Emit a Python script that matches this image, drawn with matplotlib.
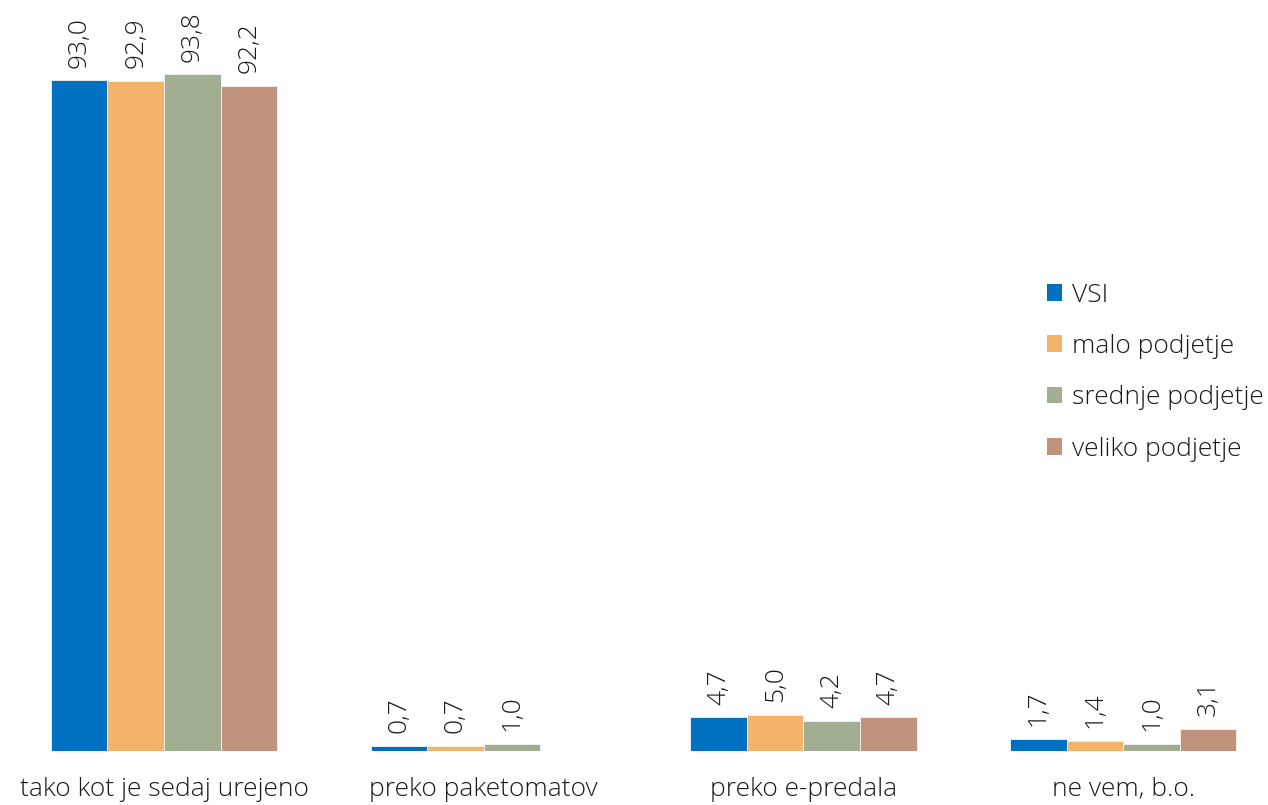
import numpy as np
import matplotlib
matplotlib.use("Agg")
import matplotlib.pyplot as plt
from matplotlib.patches import Patch

categories = ["tako kot je sedaj urejeno", "preko paketomatov", "preko e-predala", "ne vem, b.o."]
series_names = ["VSI", "malo podjetje", "srednje podjetje", "veliko podjetje"]
vsi = [93.0, 0.7, 4.7, 1.7]
malo = [92.9, 0.7, 5.0, 1.4]
srednje = [93.8, 1.0, 4.2, 1.0]
veliko = [92.2, np.nan, 4.7, 3.1]
colors = ["#0070C0", "#F3B36B", "#A2AE91", "#C1937C"]

plt.rcParams['font.family'] = ['Open Sans', 'DejaVu Sans']
plt.rcParams['font.weight'] = 'light'

fig = plt.figure(figsize=(12.68, 8.05), dpi=100)
ax = fig.add_axes([0, 54/805, 1, 751/805])

x = np.arange(len(categories))
w = 0.177
all_series = [vsi, malo, srednje, veliko]
for i, (vals, c) in enumerate(zip(all_series, colors)):
    xs = x + (i - 1.5) * w
    for xi, v in zip(xs, vals):
        if np.isnan(v):
            continue
        ax.bar(xi, v, width=w, color=c, edgecolor="#f4f4f4", linewidth=0.6)
        ax.annotate(f"{v:.1f}".replace(".", ","), (xi, v), xytext=(0, 9),
                    textcoords="offset points", rotation=90, ha="center", va="bottom",
                    fontsize=19, color="#1a1a1a")

ax.set_xlim(-0.513, 3.453)
ax.set_ylim(0, 104.1)
ax.set_xticks(x)
ax.set_xticklabels(categories, fontsize=19, color="#1a1a1a")
ax.tick_params(axis="x", length=0, pad=19)
ax.set_yticks([])
for s in ax.spines.values():
    s.set_visible(False)

handles = [Patch(facecolor=c, edgecolor="none") for c in colors]
leg = ax.legend(handles, series_names, loc="upper left", bbox_to_anchor=(1036/1268, (751-272)/751),
                frameon=False, fontsize=19, handlelength=0.6, handleheight=0.6,
                handletextpad=0.35, labelspacing=1.0, borderaxespad=0)
for t in leg.get_texts():
    t.set_color("#1a1a1a")

fig.savefig("out.png", dpi=100)
